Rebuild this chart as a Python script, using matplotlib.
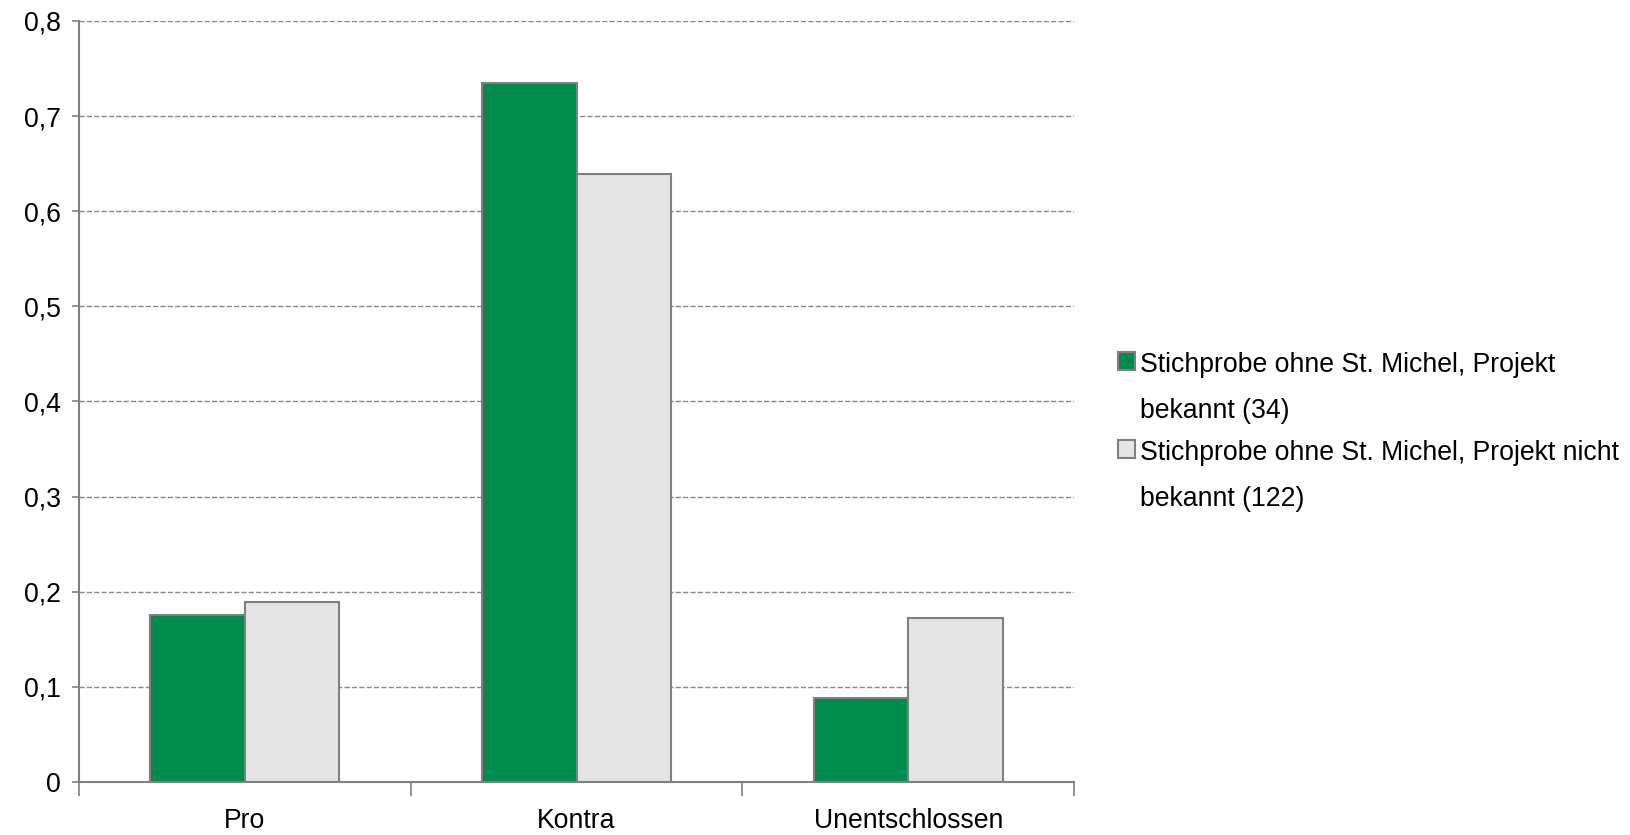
import numpy as np
import matplotlib
matplotlib.use("Agg")
import matplotlib.pyplot as plt
from matplotlib.ticker import FuncFormatter, FixedLocator

plt.rcParams['font.family'] = ['Liberation Sans', 'DejaVu Sans']

categories = ['Pro', 'Kontra', 'Unentschlossen']
bekannt = [0.176, 0.735, 0.088]
nicht_bekannt = [0.189, 0.639, 0.172]
labels = ['Stichprobe ohne St. Michel, Projekt\nbekannt (34)',
          'Stichprobe ohne St. Michel, Projekt nicht\nbekannt (122)']
yticks = [0, 0.1, 0.2, 0.3, 0.4, 0.5, 0.6, 0.7, 0.8]

green = '#008c4f'
light = '#e5e5e5'
edge = '#808080'
fs = 19.2

fig = plt.figure(figsize=(16.3, 8.35), dpi=100)
ax = fig.add_axes([0.0485, 0.0635, 0.6105, 0.9115])

x = np.arange(len(categories))
w = 0.285
ax.bar(x - w / 2, bekannt, w, color=green, edgecolor=edge, linewidth=1.5, label=labels[0], zorder=3)
ax.bar(x + w / 2, nicht_bekannt, w, color=light, edgecolor=edge, linewidth=1.5, label=labels[1], zorder=3)

ax.set_xlim(-0.5, len(categories) - 0.5)
ax.set_ylim(0, 0.8)
ax.set_yticks(yticks)
ax.yaxis.set_major_formatter(FuncFormatter(lambda v, p: ('%g' % round(v, 1)).replace('.', ',')))
ax.set_xticks(x)
ax.set_xticklabels(categories)
ax.xaxis.set_minor_locator(FixedLocator(np.arange(len(categories) + 1) - 0.5))

ax.tick_params(axis='x', which='major', length=0, pad=19, labelsize=fs)
ax.tick_params(axis='x', which='minor', length=10, width=1.2, color=edge, direction='out')
ax.tick_params(axis='y', length=5, width=1.2, color=edge, pad=8, labelsize=fs)

ax.grid(axis='y', linestyle='--', color='#888888', linewidth=1, zorder=0)
ax.set_axisbelow(True)
for s in ['top', 'right']:
    ax.spines[s].set_visible(False)
for s in ['left', 'bottom']:
    ax.spines[s].set_color(edge)
    ax.spines[s].set_linewidth(1.5)

leg = fig.legend(loc='upper left', bbox_to_anchor=(0.6775, 0.594), frameon=False,
                 fontsize=fs, handlelength=0.65, handleheight=0.65, handletextpad=0.2,
                 labelspacing=0.6, borderpad=0)
for t in leg.get_texts():
    t.set_linespacing(1.98)
for col in leg._legend_handle_box.get_children():
    for item in col.get_children():
        item.align = 'top'
for p in leg.get_patches():
    p.set_edgecolor(edge)

fig.savefig('out.png', dpi=100)
